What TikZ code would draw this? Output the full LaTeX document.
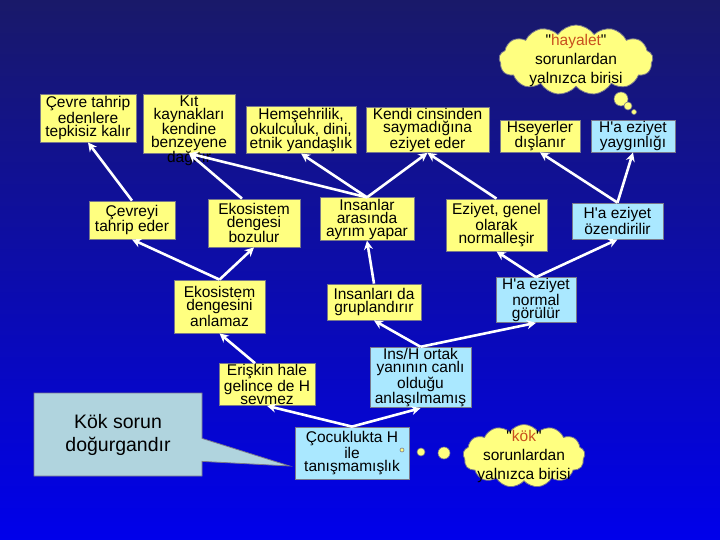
\documentclass[tikz,border=0pt]{standalone}
\usepackage{fontspec}
\setmainfont{Liberation Sans}
\usepackage{tikz}
\usetikzlibrary{arrows.meta,shapes.symbols,shapes.callouts}
\definecolor{boxyellow}{RGB}{255,255,128}
\definecolor{boxblue}{RGB}{170,232,255}
\definecolor{calloutblue}{RGB}{176,212,222}
\definecolor{boxrim}{RGB}{120,120,140}
\definecolor{bgtop}{RGB}{25,25,105}
\definecolor{bgbottom}{RGB}{0,0,235}
\definecolor{quoteword}{RGB}{200,80,30}
\newcommand{\Ha}{H\textquotesingle a}

\begin{document}
\begin{tikzpicture}[x=1pt, y=-1pt, >={Stealth[length=9pt,width=9pt]},
      yellowbox/.style={draw=boxrim, fill=boxyellow, line width=0.8pt, inner sep=1pt, align=center, font=\fontsize{15.5}{13}\selectfont},
      bluebox/.style={yellowbox, fill=boxblue},
      thought/.style={cloud, cloud puffs=13, cloud puff arc=110, draw=boxrim, fill=boxyellow, line width=0.8pt, inner sep=0pt},
      thoughttext/.style={align=center, font=\fontsize{15.5}{19}\selectfont},
      bubble/.style={circle, draw=boxrim, fill=boxyellow, line width=0.6pt, inner sep=0pt},
      flow/.style={draw=white, line width=2.6pt, ->}]
      \useasboundingbox (0,0) rectangle (720,540);
      \fill[top color=bgtop, bottom color=bgbottom] (0,0) rectangle (720,540);
      % top row
      \node (cevre) at (88,118) [yellowbox, minimum width=96pt, minimum height=48pt] {Çevre tahrip\\edenlere\\tepkisiz kalır};
      \node (kit) at (189,123.5) [yellowbox, minimum width=92pt, minimum height=59pt] {};
      \node (kittext) at ([yshift=-2pt]kit.north) [anchor=north, inner sep=0pt, align=center, font=\fontsize{15.5}{12.7}\selectfont] {Kıt\\kaynakları\\kendine\\benzeyene\\dağıtır};
      \node (hemseh) at (301,130) [yellowbox, minimum width=110pt, minimum height=44pt] {Hemşehrilik,\\okulculuk, dini,\\etnik yandaşlık};
      \node (kendi) at (427.5,130) [yellowbox, minimum width=123pt, minimum height=44pt] {Kendi cinsinden\\saymadığına\\eziyet eder};
      \node (hseyer) at (540,136) [yellowbox, minimum width=80pt, minimum height=30pt] {Hseyerler\\dışlanır};
      \node (yaygin) at (633,136) [bluebox, minimum width=84pt, minimum height=30pt] {\Ha{} eziyet\\yaygınlığı};
      \node[thought, aspect=2.2, minimum width=154pt, minimum height=70pt] (hayalet) at (576,60) {};
      \node[thoughttext] (hayalettext) at (hayalet) {\textquotedbl\textcolor{quoteword}{hayalet}\textquotedbl\\sorunlardan\\yalnızca birisi};
      \node[bubble, minimum size=14pt] (hb1) at (621,99) {};
      \node[bubble, minimum size=8pt] (hb2) at (628,106) {};
      \node[bubble, minimum size=5pt] (hb3) at (634,112) {};
      % second row
      \node (cevreyi) at (132,220) [yellowbox, minimum width=86pt, minimum height=38pt] {Çevreyi\\tahrip eder};
      \node (ekobozul) at (254,223) [yellowbox, minimum width=92pt, minimum height=48pt] {Ekosistem\\dengesi\\bozulur};
      \node (insan) at (367,219) [yellowbox, minimum width=94pt, minimum height=40pt] {Insanlar\\arasında\\ayrım yapar};
      \node (eziyet) at (496.5,225) [yellowbox, minimum width=101pt, minimum height=52pt] {Eziyet, genel\\olarak\\normalleşir};
      \node (ozend) at (617.5,221) [bluebox, minimum width=91pt, minimum height=36pt] {\Ha{} eziyet\\özendirilir};
      % third row
      \node (ekoanla) at (219.5,306.5) [yellowbox, minimum width=91pt, minimum height=53pt] {Ekosistem\\dengesini\\anlamaz};
      \node (gruplan) at (374,302) [yellowbox, minimum width=94pt, minimum height=36pt] {Insanları da\\gruplandırır};
      \node (normal) at (536,300) [bluebox, minimum width=80pt, minimum height=40pt] {\Ha{} eziyet\\normal\\görülür};
      % fourth row
      \node (eriskin) at (267,384.5) [yellowbox, minimum width=96pt, minimum height=41pt] {Erişkin hale\\gelince de H\\sevmez};
      \node (inshortak) at (420.5,377.5) [bluebox, minimum width=101pt, minimum height=55pt] {Ins/H ortak\\yanının canlı\\olduğu\\anlaşılmamış};
      % root
      \node (cocuk) at (352,453) [bluebox, minimum width=114pt, minimum height=52pt] {Çocuklukta H\\ile\\tanışmamışlık};
      \coordinate (kokTip) at ([xshift=-5pt,yshift=-13pt]cocuk.west);
      \node (kok) at (118,434.5) [rectangle callout, callout absolute pointer={(kokTip)}, callout pointer width=23pt, draw=boxrim, fill=calloutblue, line width=0.8pt, minimum width=168pt, minimum height=83pt, align=center, font=\fontsize{19.5}{23}\selectfont] {Kök sorun\\doğurgandır};
      \node[bubble, minimum size=4pt] (kb1) at (402,450) {};
      \node[bubble, minimum size=8pt] (kb2) at (421,452) {};
      \node[bubble, minimum size=12pt] (kb3) at (444,453) {};
      \node[thought, aspect=1.95, minimum width=122pt, minimum height=63pt] (kokcloud) at (524,456) {};
      \node[thoughttext] (kokcloudtext) at (kokcloud) {\textquotedbl\textcolor{quoteword}{kök}\textquotedbl\\sorunlardan\\yalnızca birisi};
      % arrows
      \draw[flow] (cevreyi.north) -- (cevre.south);
      \draw[flow] ([xshift=-12pt]ekobozul.north) -- (kit.south);
      \draw[flow] (insan.north) -- (kit.south);
      \draw[flow] (insan.north) -- (hemseh.south);
      \draw[flow] (insan.north) -- (kendi.south);
      \draw[flow] (eziyet.north) -- (kendi.south);
      \draw[flow] (ozend.north) -- (hseyer.south);
      \draw[flow] (ozend.north) -- (yaygin.south);
      \draw[flow] (ekoanla.north) -- (cevreyi.south);
      \draw[flow] (ekoanla.north) -- (ekobozul.south);
      \draw[flow] (gruplan.north) -- (insan.south);
      \draw[flow] (normal.north) -- (eziyet.south);
      \draw[flow] (normal.north) -- (ozend.south);
      \draw[flow] ([xshift=-12pt]eriskin.north) -- (ekoanla.south);
      \draw[flow] (inshortak.north) -- (gruplan.south);
      \draw[flow] (inshortak.north) -- (normal.south);
      \draw[flow] (cocuk.north) -- (eriskin.south);
      \draw[flow] (cocuk.north) -- (inshortak.south);
\end{tikzpicture}
\end{document}
